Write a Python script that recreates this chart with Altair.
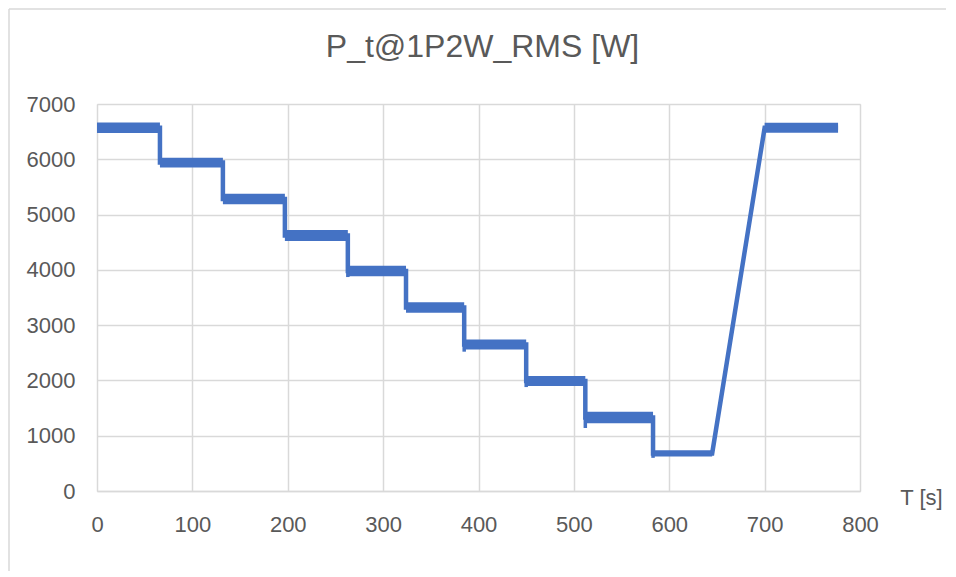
import altair as alt
import pandas as pd

# ---- data ----
plateau_start = [0, 66, 132, 197, 263, 324, 385, 450, 512, 583, 700]
plateau_end = [66, 132, 197, 263, 324, 385, 450, 512, 583, 645, 777]
plateau_level = [6570, 5940, 5280, 4620, 3980, 3320, 2650, 1990, 1330, 680, 6570]
plateau_noise = [95, 90, 95, 100, 95, 95, 90, 90, 105, 55, 90]   # half height of the noise band [W]
dip_t = [263, 385, 450, 512, 583]
dip_v = [3870, 2520, 1880, 1140, 600]

x_ticks = [0, 100, 200, 300, 400, 500, 600, 700, 800]
y_ticks = [0, 1000, 2000, 3000, 4000, 5000, 6000, 7000]

TITLE = "P_t@1P2W_RMS [W]"
X_TITLE = "T [s]"

BLUE = "#4472C4"
GREY_TEXT = "#595959"
GRID = "#d9d9d9"
FONT = "Liberation Sans"

# ---- tables built from the arrays ----
path_rows = []
k = 0
for s, e, lv in zip(plateau_start, plateau_end, plateau_level):
    path_rows.append({"t": s, "p": lv, "order": k}); k += 1
    path_rows.append({"t": e, "p": lv, "order": k}); k += 1
path = pd.DataFrame(path_rows)

bands = pd.DataFrame({
    "start": plateau_start,
    "end": plateau_end,
    "lo": [lv - n for lv, n in zip(plateau_level, plateau_noise)],
    "hi": [lv + n for lv, n in zip(plateau_level, plateau_noise)],
})

level_at = dict(zip(plateau_start, plateau_level))
dips = pd.DataFrame({"t": dip_t, "dip": dip_v, "level": [level_at[t] for t in dip_t]})

x_scale = alt.Scale(domain=[0, 800], nice=False, zero=False)
y_scale = alt.Scale(domain=[0, 7000], nice=False)

x_axis = alt.Axis(
    values=x_ticks, format="d", title=X_TITLE, titleX=824, titleY=6, titleAlign="center",
    titleBaseline="middle", titleFontSize=22, titleFontWeight="normal",
    titleColor=GREY_TEXT, titleFont=FONT,
    labelFont=FONT, labelFontSize=22, labelColor=GREY_TEXT, labelBaseline="middle",
    labelPadding=33, labelFlush=False, ticks=False, tickSize=0,
    domainColor=GRID, domainWidth=1.5, gridColor=GRID, gridWidth=1.5,
)
y_axis = alt.Axis(
    values=y_ticks, format="d", title=None,
    labelFont=FONT, labelFontSize=22, labelColor=GREY_TEXT, labelBaseline="middle",
    labelPadding=22, labelFlush=False, ticks=False, tickSize=0, domain=False,
    gridColor=GRID, gridWidth=1.5,
)

line = alt.Chart(path).mark_line(color=BLUE, strokeWidth=4.5).encode(
    x=alt.X("t:Q", scale=x_scale, axis=x_axis),
    y=alt.Y("p:Q", scale=y_scale, axis=y_axis),
    order="order:Q",
)

band = alt.Chart(bands).mark_rect(color=BLUE).encode(
    x=alt.X("start:Q", scale=x_scale, axis=x_axis),
    x2="end:Q",
    y=alt.Y("lo:Q", scale=y_scale, axis=y_axis),
    y2="hi:Q",
)

dip = alt.Chart(dips).mark_rule(color=BLUE, strokeWidth=3.5).encode(
    x=alt.X("t:Q", scale=x_scale, axis=x_axis),
    y=alt.Y("level:Q", scale=y_scale, axis=y_axis),
    y2="dip:Q",
)

one = pd.DataFrame({"a": [0]})
frame_top = alt.Chart(one).mark_rule(color=GRID, strokeWidth=1.5).encode(
    x=alt.value(-88), x2=alt.value(2000), y=alt.value(-95)
)
frame_left = alt.Chart(one).mark_rule(color=GRID, strokeWidth=1.5).encode(
    x=alt.value(-88), y=alt.value(-95), y2=alt.value(2000)
)

chart = alt.layer(frame_top, frame_left, line, band, dip).properties(
    width=763,
    height=387,
    title=alt.TitleParams(TITLE, fontSize=32, font=FONT, color=GREY_TEXT,
                          fontWeight="normal", anchor="middle", offset=-56, dx=4),
    autosize=alt.AutoSizeParams(type="none"),
    padding={"left": 89, "top": 96, "right": 86, "bottom": 80},
).configure_view(stroke=None).configure(background="white")

chart.save("out.html", embed_options={"renderer": "svg", "actions": False})
